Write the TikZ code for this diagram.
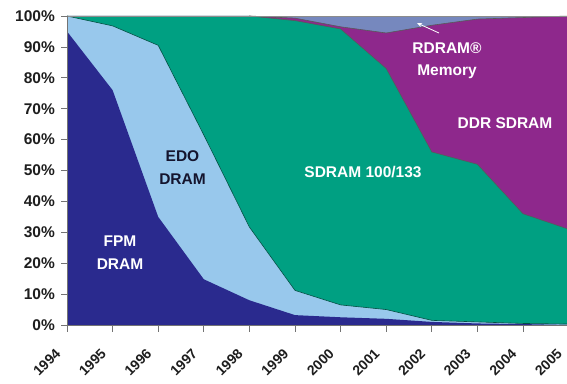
\documentclass[tikz,border=0pt]{standalone}
\usepackage{fontspec}
\setmainfont{Liberation Sans}
\usetikzlibrary{arrows.meta}
\definecolor{fpm}{RGB}{42,42,142}
\definecolor{edo}{RGB}{152,200,236}
\definecolor{sdr}{RGB}{0,160,130}
\definecolor{ddr}{RGB}{142,40,140}
\definecolor{rdr}{RGB}{118,136,190}
\definecolor{edotext}{RGB}{20,20,45}
\definecolor{axtext}{RGB}{30,30,30}
\begin{document}
\begin{tikzpicture}[x=1pt,y=1pt,
  lab/.style={font=\fontsize{15.5}{23}\selectfont\bfseries, text=white, align=center, inner sep=0pt},
  ylab/.style={font=\fontsize{15.5}{18}\selectfont\bfseries, text=axtext, anchor=east, inner sep=0pt},
  yrlab/.style={font=\fontsize{14}{16}\selectfont\bfseries, text=axtext, anchor=east, inner sep=0pt, rotate=45},
  edge/.style={draw=black!65, line width=0.6pt},
  axis/.style={draw=black!55, line width=0.7pt}]
\useasboundingbox (0,0) rectangle (567,383);
\clip (0,0) rectangle (567,383);
\fill[white] (0,0) rectangle (567,383);
\begin{scope}[shift={(67,58)}, x=45.6pt, y=3.09pt]
  % stacked areas
  \fill[rdr] (0,0) rectangle (11,100);
  \fill[ddr] (0,0) -- plot coordinates {(0,100) (1,100) (2,100) (3,100) (4,100) (5,99.3) (6,96.5) (7,94.5) (8,97) (9,99) (10,99.5) (11,100)} -- (11,0) -- cycle;
  \fill[sdr] (0,0) -- plot coordinates {(0,100) (1,100) (2,100) (3,100) (4,100) (5,98.5) (6,95.8) (7,83) (8,56) (9,52) (10,36) (11,31)} -- (11,0) -- cycle;
  \fill[edo] (0,0) -- plot coordinates {(0,100) (1,96.8) (2,90.5) (3,61.5) (4,31.7) (5,11.2) (6,6.5) (7,5) (8,1.5) (9,1) (10,0.5) (11,0.3)} -- (11,0) -- cycle;
  \fill[fpm] (0,0) -- plot coordinates {(0,95) (1,76) (2,35) (3,14.8) (4,8) (5,3.2) (6,2.5) (7,2) (8,1) (9,0.5) (10,0.3) (11,0)} -- (11,0) -- cycle;
  % boundaries
  \draw[edge] plot coordinates {(4,100) (5,99.3) (6,96.5) (7,94.5) (8,97) (9,99) (10,99.5) (11,100)};
  \draw[edge] plot coordinates {(4,100) (5,98.5) (6,95.8) (7,83) (8,56) (9,52) (10,36) (11,31)};
  \draw[edge, draw=black!50!sdr] plot coordinates {(0,100) (1,96.8) (2,90.5) (3,61.5) (4,31.7) (5,11.2) (6,6.5) (7,5) (8,1.5) (9,1) (10,0.5) (11,0.3)};
  \draw[draw=black!45, line width=0.6pt] (0,100) -- (11,100);
  % axes
  \coordinate (o) at (0,0);
  \coordinate (ytop) at (0,100);
  \coordinate (xend) at (11,0);
  \draw[axis] (ytop) -- (o) -- (xend);
  \foreach \p in {0,10,...,100} {
    \draw[axis] (0,\p) -- ++(-6pt,0);
    \node[ylab] (yl\p) at ([xshift=-12pt] 0,\p) {\p\%};
  }
  \foreach \yr [count=\i from 0] in {1994,...,2005} {
    \draw[axis] (\i,0) -- ++(0,-7pt);
    \node[yrlab] (xl\yr) at ([shift={(-9pt,-26pt)}] \i,0) {\yr};
  }
\end{scope}
% labels
\node[lab] (fpmlab) at (120,130.5) {FPM\\DRAM};
\node[lab, text=edotext] (edolab) at (182.5,215.5) {EDO\\DRAM};
\node[lab] (sdrlab) at (363,211) {SDRAM 100/133};
\node[lab] (ddrlab) at (505,260) {DDR SDRAM};
\node[lab, font=\fontsize{15.5}{22}\selectfont\bfseries] (rdrlab) at (447,322) {RDRAM®\\Memory};
\coordinate (arrs) at (439,350);
\coordinate (arre) at (417,360);
\draw[white, line width=0.8pt, -{Stealth[length=5pt,width=4pt]}] (arrs) -- (arre);
\end{tikzpicture}
\end{document}
